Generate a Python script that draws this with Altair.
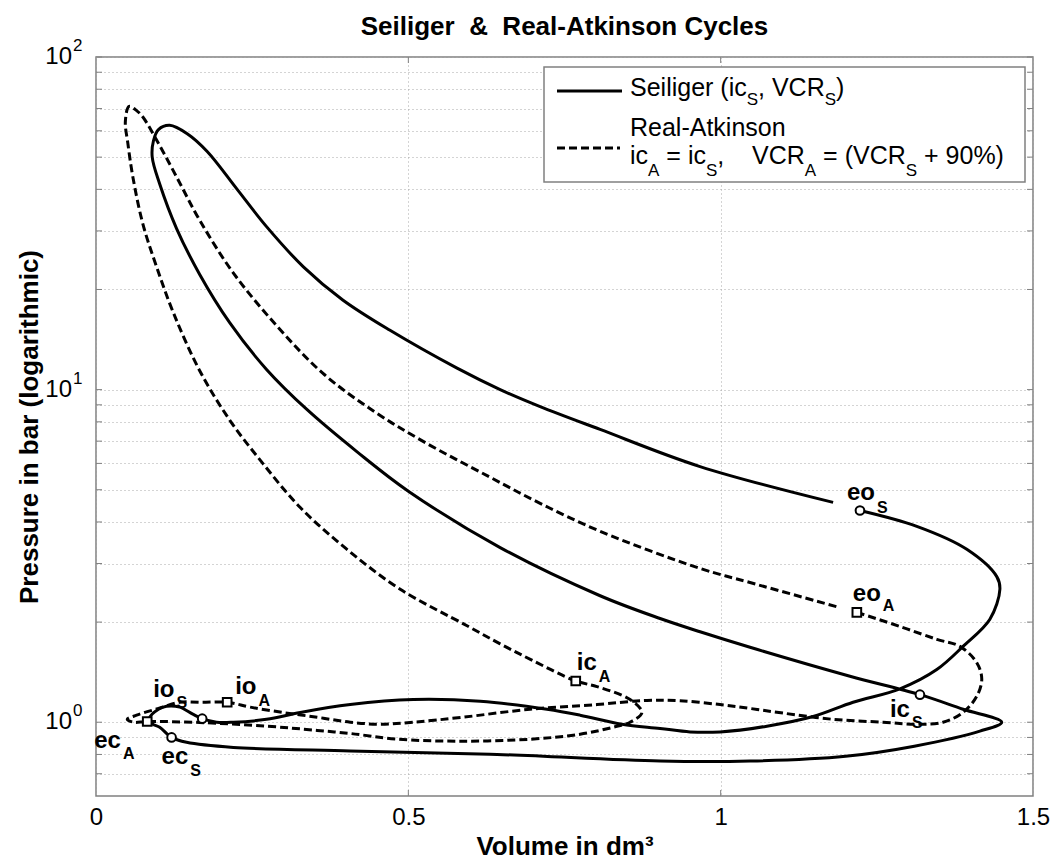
import altair as alt
import pandas as pd

# ---------------- data ----------------
# Seiliger cycle (solid), ordered along the path, starting at eo_S
seil_V = [1.223, 1.314, 1.394, 1.442, 1.447, 1.431, 1.388, 1.346, 1.287, 1.212,
          1.148, 1.074, 0.999, 0.951, 0.903, 0.842, 0.775, 0.722, 0.615, 0.508,
          0.407, 0.327, 0.273, 0.220, 0.193, 0.170, 0.155, 0.134, 0.113, 0.100,
          0.086, 0.090, 0.102, 0.121, 0.145, 0.220, 0.407, 0.642, 0.903, 1.047,
          1.200, 1.310, 1.415, 1.450, 1.388, 1.319, 1.207, 1.047, 0.967, 0.903,
          0.807, 0.647, 0.500, 0.418, 0.338, 0.273, 0.214, 0.166, 0.129, 0.102,
          0.090, 0.092, 0.100, 0.118, 0.146, 0.178, 0.226, 0.273, 0.332, 0.395,
          0.470, 0.578, 0.647, 0.711, 0.807, 0.967, 1.180]
seil_p = [4.33, 3.88, 3.31, 2.74, 2.51, 2.04, 1.69, 1.44, 1.26, 1.148,
          1.04, 0.973, 0.935, 0.935, 0.958, 0.986, 1.05, 1.094, 1.156, 1.17,
          1.13, 1.07, 1.02, 1.0, 1.0, 1.025, 1.057, 1.11, 1.117, 1.094,
          1.03, 0.99, 0.965, 0.90, 0.87, 0.84, 0.82, 0.80, 0.764, 0.764,
          0.79, 0.847, 0.94, 1.0, 1.094, 1.21, 1.375, 1.68, 1.87, 2.05,
          2.40, 3.35, 4.95, 6.5, 8.7, 11.5, 15.9, 22.2, 30.5, 41.5,
          50.0, 56.0, 60.5, 62.3, 58.8, 52.0, 40.0, 30.9, 23.4, 18.6,
          15.1, 11.6, 10.0, 8.89, 7.59, 5.87, 4.58]

# Real-Atkinson cycle (dashed), ordered along the path, starting at eo_A
atk_V = [1.218, 1.287, 1.346, 1.383, 1.410, 1.418, 1.410, 1.388, 1.356, 1.314,
         1.260, 1.180, 1.100, 1.047, 0.999, 0.935, 0.882, 0.802, 0.695, 0.587,
         0.508, 0.455, 0.407, 0.354, 0.299, 0.247, 0.210, 0.170, 0.134, 0.100,
         0.065, 0.050, 0.060, 0.082, 0.166, 0.273, 0.354, 0.407, 0.482, 0.587,
         0.695, 0.775, 0.828, 0.855, 0.874, 0.855, 0.802, 0.768, 0.700, 0.647,
         0.594, 0.487, 0.400, 0.327, 0.267, 0.214, 0.166, 0.124, 0.097, 0.075,
         0.059, 0.051, 0.047, 0.053, 0.065, 0.075, 0.097, 0.129, 0.166, 0.220,
         0.290, 0.363, 0.443, 0.523, 0.631, 0.711, 0.807, 0.967, 1.047, 1.191]
atk_p = [2.14, 1.94, 1.775, 1.69, 1.51, 1.346, 1.197, 1.07, 1.0, 0.986,
         1.0, 1.02, 1.065, 1.10, 1.13, 1.16, 1.163, 1.13, 1.094, 1.035,
         1.0, 0.986, 1.0, 1.035, 1.07, 1.11, 1.148, 1.148, 1.148, 1.10,
         1.05, 1.02, 1.0, 1.005, 0.998, 0.973, 0.945, 0.925, 0.889, 0.877,
         0.889, 0.92, 0.966, 1.0, 1.07, 1.17, 1.28, 1.33, 1.53, 1.72,
         1.95, 2.51, 3.33, 4.42, 6.0, 8.1, 11.4, 17.0, 23.4, 31.5,
         43.6, 55.0, 64.0, 71.0, 69.0, 66.0, 56.3, 43.6, 32.3, 22.4,
         15.5, 11.2, 8.65, 7.0, 5.45, 4.55, 3.75, 2.9, 2.63, 2.21]

# valve events
evt_names = ["eo", "ic", "io", "ec"]
s_evt_V = [1.223, 1.319, 0.170, 0.121]
s_evt_p = [4.33, 1.21, 1.025, 0.90]
a_evt_V = [1.218, 0.768, 0.210, 0.082]
a_evt_p = [2.14, 1.33, 1.148, 1.005]

x_ticks = [0, 0.5, 1, 1.5]
x_inner_ticks = [0.5, 1.0]
y_grid = [0.7, 0.8, 0.9, 1, 2, 3, 4, 5, 6, 7, 8, 9,
          10, 20, 30, 40, 50, 60, 70, 80, 90, 100]
y_major = [1, 10, 100]
y_major_exp = ["0", "1", "2"]

title_text = "Seiliger\u00a0\u00a0&\u00a0\u00a0Real-Atkinson Cycles"

# ---------------- layout / style ----------------
W, H = 937, 739
FONT = "Liberation Sans"
GRAY = "#808080"

xs = alt.Scale(domain=[0, 1.5], nice=False, zero=False)
ys = alt.Scale(type="log", domain=[0.6, 100], nice=False)
GRID = dict(grid=True, gridColor="#a8a8a8", gridDash=[1, 3], gridWidth=1)
xaxis = alt.Axis(values=x_ticks, format="~g", labelFontSize=24, labelPadding=9,
                 ticks=False, tickSize=0, domain=False, labelFlush=False,
                 labelColor="black", title="Volume in dm³", titleFontSize=26,
                 titleFontWeight="bold", titlePadding=4, titleColor="black", **GRID)
yaxis = alt.Axis(values=y_grid, labels=False, ticks=False, tickSize=0, domain=False,
                 title="Pressure in bar (logarithmic)", titleFontSize=26,
                 titleFontWeight="bold", titlePadding=54, titleColor="black", **GRID)
X = alt.X("V:Q", scale=xs, axis=xaxis)
Y = alt.Y("p:Q", scale=ys, axis=yaxis)

layers = []
blank = pd.DataFrame({"k": [0]})

# inner tick marks on all four sides
ytk = pd.DataFrame({"p": y_grid})
xtk = pd.DataFrame({"V": x_inner_ticks})
layers.append(alt.Chart(ytk).mark_rule(color=GRAY, strokeWidth=1).encode(
    y=Y, x=alt.value(0), x2=alt.value(6)))
layers.append(alt.Chart(ytk).mark_rule(color=GRAY, strokeWidth=1).encode(
    y=Y, x=alt.value(W - 6), x2=alt.value(W)))
layers.append(alt.Chart(xtk).mark_rule(color=GRAY, strokeWidth=1).encode(
    x=X, y=alt.value(H - 6), y2=alt.value(H)))
layers.append(alt.Chart(xtk).mark_rule(color=GRAY, strokeWidth=1).encode(
    x=X, y=alt.value(0), y2=alt.value(6)))

# cycles
seil_df = pd.DataFrame({"V": seil_V, "p": seil_p, "i": range(len(seil_V))})
atk_df = pd.DataFrame({"V": atk_V, "p": atk_p, "i": range(len(atk_V))})
layers.append(alt.Chart(seil_df).mark_line(color="black", strokeWidth=3,
                                           interpolate="catmull-rom").encode(
    x=X, y=Y, order="i:Q"))
layers.append(alt.Chart(atk_df).mark_line(color="black", strokeWidth=3,
                                          strokeDash=[8, 4],
                                          interpolate="catmull-rom").encode(
    x=X, y=Y, order="i:Q"))

# markers
s_df = pd.DataFrame({"V": s_evt_V, "p": s_evt_p, "n": evt_names})
a_df = pd.DataFrame({"V": a_evt_V, "p": a_evt_p, "n": evt_names})
layers.append(alt.Chart(s_df).mark_point(shape="circle", size=75, filled=True,
                                         fill="white", stroke="black",
                                         strokeWidth=2, opacity=1).encode(x=X, y=Y))
layers.append(alt.Chart(a_df).mark_point(shape="square", size=75, filled=True,
                                         fill="white", stroke="black",
                                         strokeWidth=2, opacity=1).encode(x=X, y=Y))

# event labels with subscripts (offsets in px from the marker)
BOLD_W = {"e": 556, "o": 611, "i": 278, "c": 556}
LBL = 24
SUB = 16
offsets = {
    ("S", "eo"): (-13, -11, 2),
    ("S", "ic"): (-30, 22, 33),
    ("S", "io"): (-49, -22, -11),
    ("S", "ec"): (-10, 27, 39),
    ("A", "eo"): (-4, -11, -1),
    ("A", "ic"): (1, -11, 1),
    ("A", "io"): (8, -8, 4),
    ("A", "ec"): (-53, 27, 38),
}
for cyc, df in (("S", s_df), ("A", a_df)):
    for k, name in enumerate(evt_names):
        dx, dy, dys = offsets[(cyc, name)]
        row = df.iloc[[k]]
        wmain = sum(BOLD_W[c] for c in name) * LBL / 1000
        layers.append(alt.Chart(row).mark_text(
            text=name, align="left", baseline="alphabetic", fontSize=LBL,
            fontWeight="bold", dx=dx, dy=dy, color="black").encode(x=X, y=Y))
        layers.append(alt.Chart(row).mark_text(
            text=cyc, align="left", baseline="alphabetic", fontSize=SUB,
            fontWeight="bold", dx=dx + wmain + 2, dy=dys, color="black").encode(x=X, y=Y))

# y tick labels 10^n
ylab = pd.DataFrame({"p": y_major, "e": y_major_exp})
layers.append(alt.Chart(ylab).mark_text(text="10", align="right", baseline="middle",
                                        fontSize=24, color="black").encode(
    y=Y, x=alt.value(-24)))
layers.append(alt.Chart(ylab).mark_text(align="left", baseline="middle",
                                        fontSize=17, dy=-11, color="black").encode(
    y=Y, x=alt.value(-23), text="e:N"))

# chart title
layers.append(alt.Chart(blank).mark_text(
    text=title_text, align="center", baseline="alphabetic", fontSize=26,
    fontWeight="bold", color="black").encode(x=alt.value(W / 2), y=alt.value(-22)))

# legend box
layers.append(alt.Chart(blank).mark_rect(fill="white", stroke=GRAY, strokeWidth=1.5).encode(
    x=alt.value(448), x2=alt.value(929), y=alt.value(10), y2=alt.value(125)))
layers.append(alt.Chart(blank).mark_rule(color="black", strokeWidth=3).encode(
    x=alt.value(461), x2=alt.value(526), y=alt.value(34)))
layers.append(alt.Chart(blank).mark_rule(color="black", strokeWidth=3,
                                         strokeDash=[8, 4]).encode(
    x=alt.value(461), x2=alt.value(524), y=alt.value(91)))

REG_W = {" ": 278, "(": 333, ")": 333, "%": 889, "+": 584, ",": 278, "-": 333,
         ".": 278, "0": 556, "9": 556, "=": 584, "A": 667, "C": 722, "R": 722,
         "S": 667, "V": 667, "a": 556, "c": 500, "e": 556, "g": 556, "i": 222,
         "k": 500, "l": 222, "n": 556, "o": 556, "r": 333, "s": 500, "t": 278}
LEG = 25
LEG_SUB = 17


def legend_line(pieces, x0, base, sub_base, size_main=LEG):
    x = x0
    for txt, sub in pieces:
        size = LEG_SUB if sub else size_main
        lead = len(txt) - len(txt.lstrip(" "))
        x += lead * REG_W[" "] * size / 1000
        body = txt.lstrip(" ")
        layers.append(alt.Chart(blank).mark_text(
            text=body, align="left", baseline="alphabetic", fontSize=size,
            color="black").encode(x=alt.value(x), y=alt.value(sub_base if sub else base)))
        x += sum(REG_W[c] for c in body) * size / 1000


legend_line([("Seiliger (ic", 0), ("S", 1), (",", 0), (" VCR", 0), ("S", 1), (")", 0)],
            534, 39, 48)
legend_line([("Real-Atkinson", 0)], 534, 79, 79)
legend_line([("ic", 0), ("A", 1), (" = ic", 0), ("S", 1), (",", 0), ("    VCR", 0),
             ("A", 1), (" = (VCR", 0), ("S", 1), (" + 90%)", 0)], 534, 107, 119)

chart = alt.layer(*layers).properties(
    width=W, height=H,
    padding={"left": 96, "top": 57, "right": 22, "bottom": 71},
    autosize=alt.AutoSizeParams(type="none"),
    background="white",
).configure(font=FONT).configure_view(stroke=GRAY, strokeWidth=1.5)

chart.save("out.html", embed_options={"renderer": "svg", "actions": False})
